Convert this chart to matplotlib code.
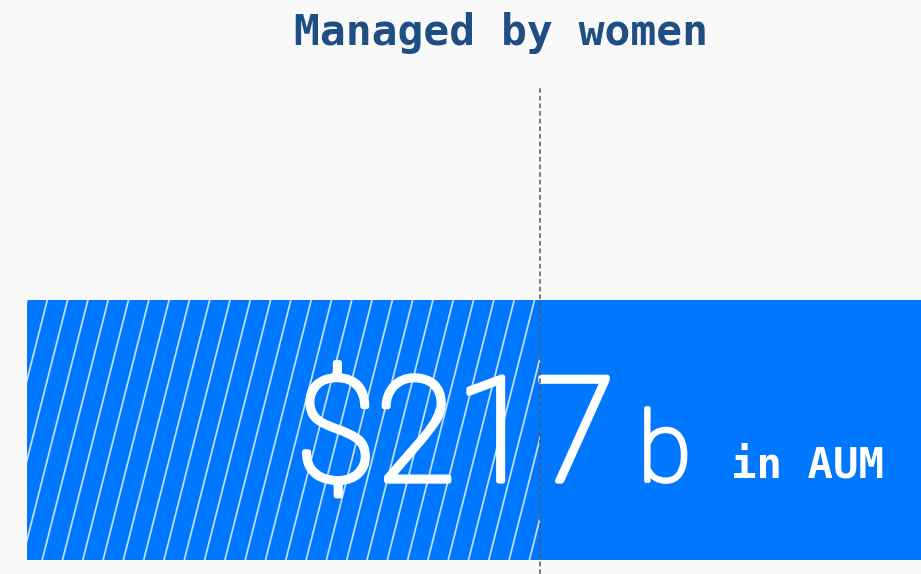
import matplotlib
matplotlib.use("Agg")
import matplotlib.pyplot as plt
import matplotlib.patheffects as pe
import numpy as np
from matplotlib.patches import Rectangle

# ---- data ----
title = "Managed by women"
aum_value = 217
aum_unit = "b"
aum_label = "in AUM"
women_share = 0.574     # hatched portion of the bar (fraction of full bar)
marker_position = 0.574  # dashed reference line
bar_total = 1.0

# ---- style ----
BG = "#f9f9f9"
BLUE = "#0077ff"
TITLE_C = "#1f4e85"

fig = plt.figure(figsize=(9.21, 5.74), dpi=100, facecolor=BG)
ax = fig.add_axes([0, 0, 1, 1])
ax.set_facecolor(BG)
x0 = -27 / 894
ax.set_xlim(x0, 1.0)
ax.set_ylim(0, 1)
ax.axis("off")

bar_bottom, bar_top = 14 / 574, 274 / 574
bar_h = bar_top - bar_bottom

ax.barh([bar_bottom + bar_h / 2], [bar_total * 1.02], height=bar_h, left=0,
        color=BLUE, edgecolor="none", zorder=1)

# hatched women's share
clip = Rectangle((0, bar_bottom), women_share, bar_h, transform=ax.transData,
                 facecolor="none", edgecolor="none")
ax.add_patch(clip)
spacing = 20.3 / 894
shift = 66 / 894
for xs in np.arange(-shift, women_share + spacing, spacing):
    ln, = ax.plot([xs, xs + shift], [bar_bottom, bar_top], color="white",
                  lw=1.3, alpha=0.75, zorder=2, solid_capstyle="butt")
    ln.set_clip_path(clip)

# dashed reference line
ax.plot([marker_position, marker_position], [0, 486 / 574], color="#555555",
        lw=1.1, ls=(0, (3, 2)), zorder=4)

# texts
ax.text(501 / 921, 1 - 33 / 574, title, transform=fig.transFigure,
        ha="center", va="center", fontsize=31, fontweight="bold",
        family="DejaVu Sans Mono", color=TITLE_C)

fx = lambda px: x0 + px / 921 * (1 - x0)
base = 1 - 481 / 574
thick = [pe.withStroke(linewidth=3.8, foreground="white")]
thick_b = [pe.withStroke(linewidth=2.8, foreground="white")]
ax.text(fx(296), base, f"${aum_value}", ha="left", va="baseline",
        fontsize=105, family="Roboto", fontweight="light", color="white",
        zorder=3, path_effects=thick)
ax.text(fx(638), base, aum_unit, ha="left", va="baseline",
        fontsize=70, family="Roboto", fontweight="light", color="white",
        zorder=3, path_effects=thick_b)
ax.text(fx(731), 1 - 478 / 574, aum_label, ha="left", va="baseline",
        fontsize=30.5, family="DejaVu Sans Mono", fontweight="bold", color="white", zorder=3)

fig.savefig("out.png", dpi=100, facecolor=BG)
